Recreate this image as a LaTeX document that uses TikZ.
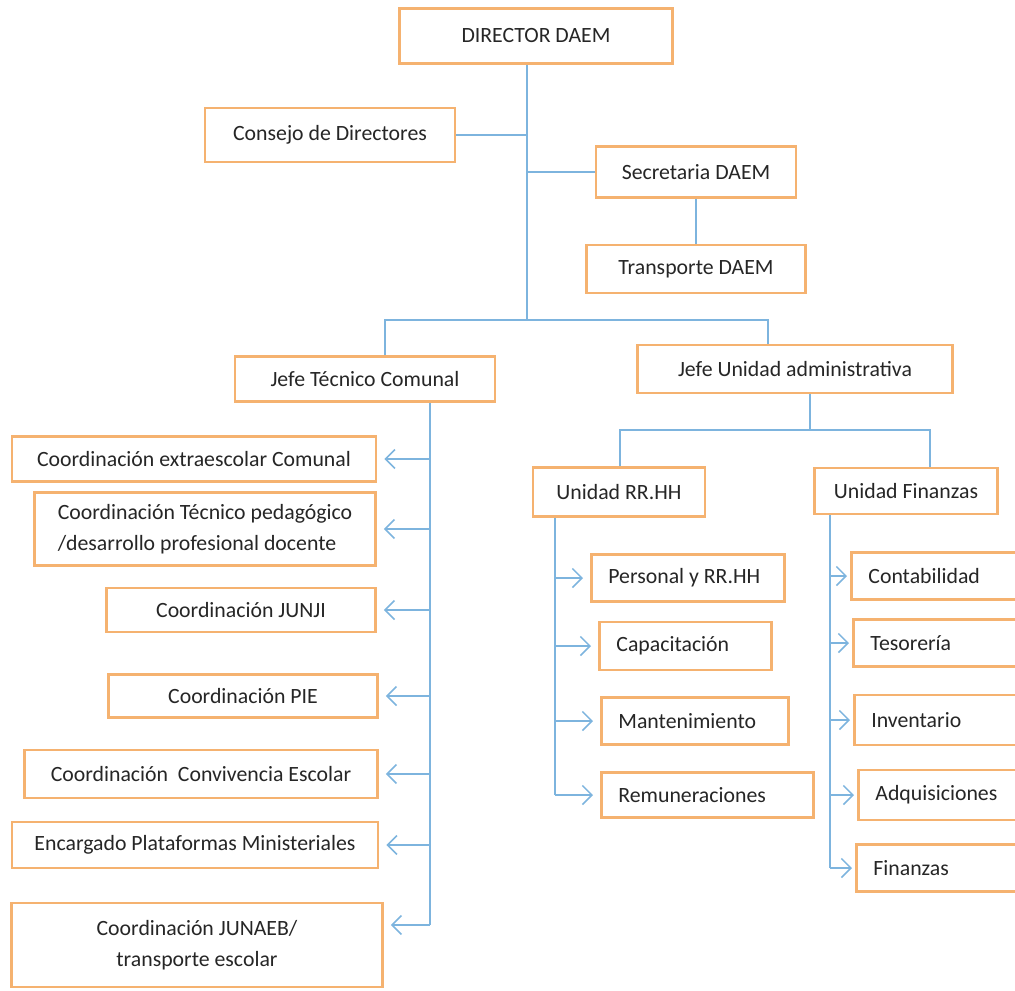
\documentclass[tikz,border=0pt]{standalone}
\usepackage{fontspec}
\setmainfont{Carlito}
\usetikzlibrary{positioning}
\usetikzlibrary{calc}
\usetikzlibrary{arrows.meta}
\definecolor{boxline}{RGB}{245,178,112}
\definecolor{linkline}{RGB}{125,180,222}
\tikzset{
  box/.style   = { rectangle, draw=boxline, line width=1.6pt, fill=white, inner sep=0pt },
  unit/.style  = { box, font=\fontsize{12.4}{18}\selectfont },
  item/.style  = { unit, anchor=west, inner xsep=0.34cm, align=flush left },
  link/.style  = { ->, shorten >=0.14cm },
}

\begin{document}
\begin{tikzpicture}[
  x=0.02cm,y=-0.02cm,
  >={Straight Barb[length=1.9mm,width=3.8mm]},
  line width=0.9pt,linkline,text=black!85
]
  \useasboundingbox (0,0) rectangle (1015,991);
  \clip (0,0) rectangle (1015,991);

  % top
  \node (dir)  [unit,minimum width=5.46cm,minimum height=1.1cm]  at (536,36)  {DIRECTOR DAEM};
  \node (cons) [unit,minimum width=5cm,minimum height=1.08cm]    at (330,135) {Consejo de Directores};
  \node (sec)  [unit,minimum width=4cm,minimum height=1.02cm]    at (696,172) {Secretaria DAEM};
  \node (tra)  [unit,minimum width=4.38cm,minimum height=0.96cm] at (696,269) {Transporte DAEM};
  \node (jtc)  [unit,minimum width=5.2cm,minimum height=0.9cm]   at (365,379) {Jefe Técnico Comunal};
  \node (jua)  [unit,minimum width=6.3cm,minimum height=0.96cm]  at (795,369) {Jefe Unidad administrativa};

  % left column
  \node (extra)  [unit,minimum width=7.28cm,minimum height=0.9cm]  at (194,459) {Coordinación extraescolar Comunal};
  \node (tped)   [unit,minimum width=6.82cm,minimum height=1.46cm,align=left] at (205,529)
                 {Coordinación Técnico pedagógico\\/desarrollo profesional docente};
  \node (junji)  [unit,minimum width=5.38cm,minimum height=0.88cm] at (241,610) {Coordinación JUNJI};
  \node (pie)    [unit,minimum width=5.38cm,minimum height=0.86cm] at (243,696) {Coordinación PIE};
  \node (conv)   [unit,minimum width=7.06cm,minimum height=0.96cm] at (201,774) {Coordinación~ Convivencia Escolar};
  \node (plat)   [unit,minimum width=7.32cm,minimum height=0.92cm] at (195,845) {Encargado Plataformas Ministeriales};
  \node (junaeb) [unit,minimum width=7.42cm,minimum height=1.68cm,align=center] at (197,945)
                 {Coordinación JUNAEB/\\transporte escolar};

  % units
  \node (rrhh) [unit,minimum width=3.44cm,minimum height=0.98cm] at (619,492) {Unidad RR.HH};
  \node (fin)  [unit,minimum width=3.66cm,minimum height=0.92cm] at (906,491) {Unidad Finanzas};

  \node (pers) [item,text width=3.18cm,minimum height=0.94cm] at (590,578) {Personal y RR.HH};
  \node (capa) [item,text width=2.76cm,minimum height=0.96cm] at (598,646) {Capacitación};
  \node (mant) [item,text width=3.06cm,minimum height=0.94cm] at (600,721) {Mantenimiento};
  \node (rem)  [item,text width=3.56cm,minimum height=0.9cm]  at (600,795) {Remuneraciones};

  \node (cont) [item,text width=3cm,minimum height=0.94cm] at (850,576) {Contabilidad};
  \node (teso) [item,text width=3cm,minimum height=0.94cm] at (852,643) {Tesorería};
  \node (inv)  [item,text width=3cm,minimum height=1cm]    at (853,720) {Inventario};
  \node (adq)  [item,text width=3cm,minimum height=1cm]    at (857,795) {Adquisiciones};
  \node (finz) [item,text width=3cm,minimum height=0.94cm] at (855,868) {Finanzas};

  % connectors
  \coordinate (fork) at (527,320);
  \coordinate (fl)   at (385,320);
  \coordinate (fr)   at (768,320);
  \draw (dir.south -| fork) -- (fork);
  \draw (cons.east) -- (cons.east -| fork);
  \draw (sec.west) -- (sec.west -| fork);
  \draw (sec) -- (tra);
  \draw (fl |- jtc.north) -- (fl) -- (fr) -- (fr |- jua.north);

  \coordinate (lt) at (430,925);
  \draw (jtc.south -| lt) -- (lt);
  \foreach \n in {extra,tped,junji,pie,conv,plat}
    \draw [link] (\n.east -| lt) -- (\n.east);
  \draw [link] (lt) -- (lt -| junaeb.east);

  \coordinate (ju) at (810,430);
  \coordinate (rl) at (620,430);
  \coordinate (rr) at (930,430);
  \draw (jua.south -| ju) -- (ju);
  \draw (rl |- rrhh.north) -- (rl) -- (rr) -- (rr |- fin.north);

  \coordinate (rt) at (555,795);
  \draw (rrhh.south -| rt) -- (rt);
  \foreach \n in {pers,capa,mant}
    \draw [link] (\n.west -| rt) -- (\n.west);
  \draw [link] (rt) -- (rem.west);

  \coordinate (ft) at (830,868);
  \draw (fin.south -| ft) -- (ft);
  \foreach \n in {cont,teso,inv,adq,finz}
    \draw [link,shorten >=0.06cm] (\n.west -| ft) -- (\n.west);

\end{tikzpicture}
\end{document}
